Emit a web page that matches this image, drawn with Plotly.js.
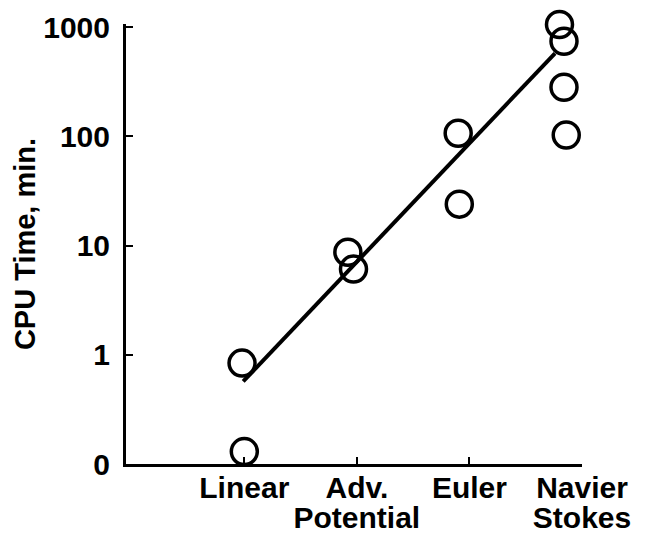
<!DOCTYPE html>
<html>
<head>
<meta charset="utf-8">
<script src="https://cdn.plot.ly/plotly-3.0.1.min.js"></script>
<style>html,body{margin:0;padding:0;background:#fff;}#chart{width:649px;height:539px;}</style>
</head>
<body>
<div id="chart"></div>
<script>
// Categories (x-axis): first and second lines of each label, and positions
var categoryPos = [1, 2, 3, 4];
var categoryLine1 = ["Linear", "Adv.", "Euler", "Navier"];
var categoryLine2 = ["", "Potential", "", "Stokes"];

// Measured CPU times (min.) — position along the category axis and value
var pointX = [0.98, 1.00, 1.92, 1.97, 2.90, 2.91, 3.80, 3.84, 3.84, 3.86];
var pointY = [0.84, 0.13, 8.7, 6.1, 107, 24, 1060, 745, 282, 103];

// Trend line end points
var fitX = [0.99, 3.76];
var fitY = [0.57, 578];

// Y tick values and labels
var yTickVals = [0.1, 1, 10, 100, 1000];
var yTickText = ["0", "1", "10", "100", "1000"];

var fam = "Liberation Sans, Arial, Helvetica, sans-serif";

var traces = [
  {
    x: fitX, y: fitY, type: "scatter", mode: "lines",
    line: {color: "#000", width: 4},
    cliponaxis: false, hoverinfo: "skip", showlegend: false
  },
  {
    x: pointX, y: pointY, type: "scatter", mode: "markers",
    marker: {symbol: "circle-open", size: 26, color: "#000", line: {color: "#000", width: 3.5}},
    cliponaxis: false, showlegend: false
  },
  {
    // carrier for the second line of the category labels
    x: categoryPos, y: [null, null, null, null], xaxis: "x2", yaxis: "y",
    type: "scatter", mode: "markers", hoverinfo: "skip", showlegend: false
  }
];

var layout = {
  width: 649, height: 539,
  margin: {l: 126, r: 67, t: 24, b: 75, pad: 0},
  paper_bgcolor: "#fff", plot_bgcolor: "#fff",
  font: {family: fam, size: 30, color: "#000", weight: 700},
  showlegend: false,
  xaxis: {
    range: [-0.051, 4.0],
    tickvals: categoryPos, ticktext: categoryLine1,
    ticks: "inside", ticklen: 7, tickwidth: 2, tickcolor: "#000",
    showline: true, linecolor: "#000", linewidth: 3,
    showgrid: false, zeroline: false,
    tickfont: {family: fam, size: 30, color: "#000", weight: 700},
    ticklabelstandoff: -5,
    fixedrange: true
  },
  xaxis2: {
    overlaying: "x", matches: "x", anchor: "y", side: "bottom",
    range: [-0.051, 4.0],
    tickvals: categoryPos, ticktext: categoryLine2,
    ticks: "", showline: false, showgrid: false, zeroline: false,
    tickfont: {family: fam, size: 30, color: "#000", weight: 700},
    ticklabelstandoff: 33,
    fixedrange: true
  },
  yaxis: {
    type: "log", range: [-1, 3.03],
    tickvals: yTickVals, ticktext: yTickText,
    ticks: "inside", ticklen: 7, tickwidth: 2, tickcolor: "#000",
    showline: true, linecolor: "#000", linewidth: 3,
    showgrid: false, zeroline: false,
    tickfont: {family: fam, size: 30, color: "#000", weight: 700},
    ticklabelstandoff: 7,
    title: {text: "CPU Time, min.", font: {family: fam, size: 29, color: "#000", weight: 700}, standoff: 0},
    fixedrange: true
  }
};

Plotly.newPlot("chart", traces, layout, {displayModeBar: false, staticPlot: true});
</script>
</body>
</html>
